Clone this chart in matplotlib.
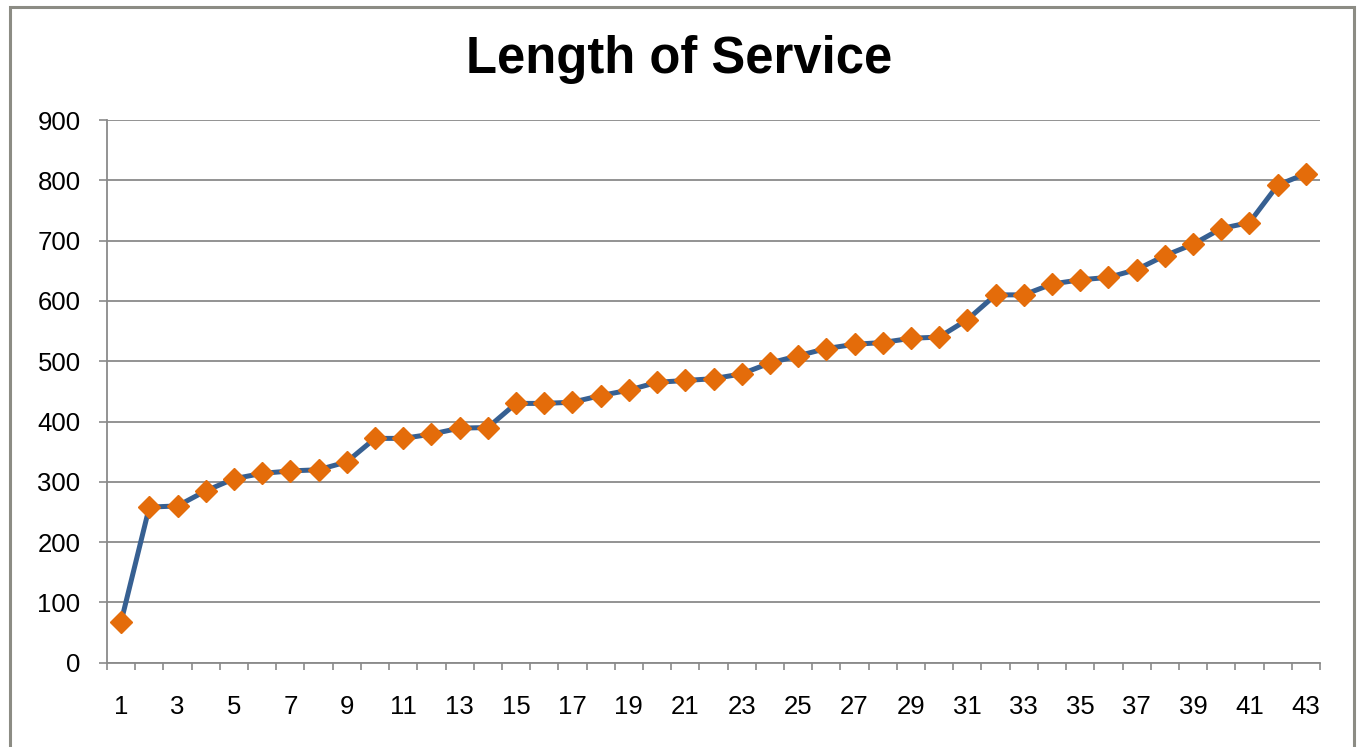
import matplotlib
matplotlib.use("Agg")
import matplotlib.pyplot as plt
from matplotlib.patches import Rectangle
import numpy as np

# Employees ranked by length of service
employee = list(range(1, 44))
service = [68, 258, 260, 285, 305, 314, 318, 320, 333, 372, 372, 379, 389, 390,
           430, 430, 432, 443, 452, 465, 468, 471, 479, 497, 509, 521, 528, 531,
           538, 540, 569, 610, 610, 628, 635, 639, 652, 675, 694, 720, 730, 792, 811]
y_ticks = [0, 100, 200, 300, 400, 500, 600, 700, 800, 900]
x_tick_labels = [str(n) for n in range(1, 44, 2)]

plt.rcParams['font.family'] = ['Liberation Sans', 'DejaVu Sans']

fig = plt.figure(figsize=(13.59, 7.47), dpi=100)
ax = fig.add_axes([107 / 1359, (747 - 662.7) / 747, 1213 / 1359, 542.7 / 747])

grid_col = '#8a8a8a'
ax.plot(employee, service, color='#376092', linewidth=3.6, zorder=3,
        marker='D', markersize=11, markerfacecolor='#E46C0A',
        markeredgecolor='#E46C0A', solid_joinstyle='round')

ax.set_xlim(0.5, 43.5)
ax.set_ylim(0, 900)
ax.set_yticks(y_ticks)
ax.set_yticklabels([str(v) for v in y_ticks])
ax.yaxis.grid(True, color=grid_col, linewidth=1.3)
ax.set_axisbelow(True)

ax.set_xticks(list(range(1, 44, 2)))
ax.set_xticklabels(x_tick_labels)
ax.set_xticks(np.arange(0.5, 44, 1.0), minor=True)
ax.tick_params(axis='x', which='major', length=0, pad=23.5, labelsize=18.5)
ax.tick_params(axis='x', which='minor', length=5, width=1.2, color=grid_col,
               direction='out')
ax.tick_params(axis='y', length=6, width=1.2, color=grid_col, pad=13,
               labelsize=18.5)

for s in ('top', 'right'):
    ax.spines[s].set_visible(False)
for s in ('left', 'bottom'):
    ax.spines[s].set_color(grid_col)
    ax.spines[s].set_linewidth(1.3)

fig.text(0.5, (747 - 73.3) / 747, 'Length of Service', ha='center',
         va='baseline', fontsize=36.5, fontweight='bold')

# Chart frame
fig.patches.append(Rectangle((9.5 / 1359, -0.05), (1354 - 9.5) / 1359, 1.05 - 7.5 / 747,
                             transform=fig.transFigure, fill=False,
                             edgecolor='#8c8c84', linewidth=2.2))

fig.savefig('out.png', dpi=100)
